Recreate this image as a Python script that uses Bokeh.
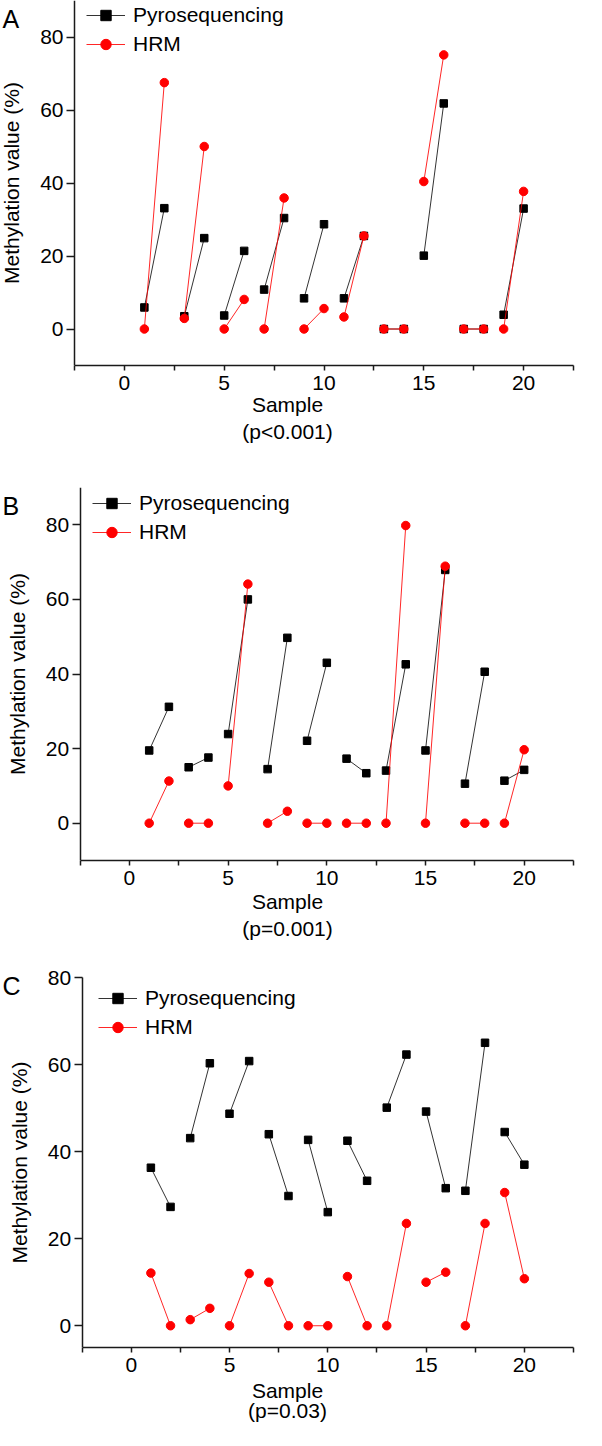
from bokeh.plotting import figure
from bokeh.layouts import column
from bokeh.models import FixedTicker, Label, Range1d
from bokeh.embed import file_html
from bokeh.resources import INLINE

samples = list(range(1, 21))

pyro_a = [5.9, 33.1, 3.5, 24.9, 3.7, 21.4, 10.8, 30.4, 8.4, 28.7,
          8.4, 25.5, 0, 0, 20.1, 61.8, 0, 0, 3.9, 33.0]
hrm_a = [0, 67.5, 2.9, 50.0, 0, 8.1, 0, 35.9, 0, 5.6,
         3.3, 25.5, 0, 0, 40.4, 75.1, 0, 0, 0, 37.7]

pyro_b = [19.5, 31.2, 15.0, 17.6, 23.9, 60.0, 14.5, 49.7, 22.1, 43.0,
          17.3, 13.4, 14.1, 42.6, 19.5, 67.9, 10.6, 40.6, 11.4, 14.3]
hrm_b = [0, 11.3, 0, 0, 10.0, 64.1, 0, 3.2, 0, 0,
         0, 0, 0, 79.8, 0, 68.9, 0, 0, 0, 19.7]

pyro_c = [36.3, 27.3, 43.1, 60.3, 48.7, 60.8, 44.0, 29.8, 42.7, 26.1,
          42.5, 33.3, 50.1, 62.3, 49.2, 31.6, 31.0, 65.0, 44.5, 37.0]
hrm_c = [12.1, 0, 1.4, 4.0, 0, 12.0, 10.0, 0, 0, 0,
         11.3, 0, 0, 23.5, 10.0, 12.3, 0, 23.5, 30.6, 10.8]

x_major = [0, 5, 10, 15, 20]
x_minor = [-2.5, 2.5, 7.5, 12.5, 17.5, 22.5]
y_major = [0, 20, 40, 60, 80]
x_lo, x_hi = -2.5, 22.5

FONT = "Liberation Sans"
RED = "#ff0000"
W = 586
PAGE = 8  # body margin


def pairs(xv, yv):
    xs = [[xv[i], xv[i + 1]] for i in range(0, len(xv), 2)]
    ys = [[yv[i], yv[i + 1]] for i in range(0, len(yv), 2)]
    return xs, ys


def panel(letter, pyro, hrm, ylo, yhi, xlabel, fig_top, height,
          frame_top, axis_top, axis_bottom, axis_left, frame_right,
          leg_x, leg_y, lab_lh, lab_standoff):
    # layout in page pixels -> borders and ranges
    bl = 1
    br = PAGE + W - frame_right
    bt = frame_top - fig_top
    bb = fig_top + height - axis_bottom
    ppx = (frame_right - axis_left) / (x_hi - x_lo)
    x_start = x_lo - (axis_left - (PAGE + bl)) / ppx
    ppy = (axis_bottom - axis_top) / float(yhi - ylo)
    y_end = yhi + (axis_top - frame_top) / ppy

    p = figure(width=W, height=height, output_backend="svg",
               toolbar_location=None, x_range=Range1d(x_start, x_hi),
               y_range=Range1d(ylo, y_end), min_border_left=bl,
               min_border_top=bt, min_border_bottom=bb, min_border_right=br)
    p.outline_line_color = None
    p.xgrid.visible = False
    p.ygrid.visible = False
    p.background_fill_color = "white"
    p.border_fill_color = "white"

    xs, ys = pairs(samples, pyro)
    p.multi_line(xs, ys, line_color="#333333", line_width=1,
                 legend_label="Pyrosequencing")
    p.scatter(samples, pyro, marker="square", size=7.5, fill_color="black",
              line_color="black", legend_label="Pyrosequencing")
    xs, ys = pairs(samples, hrm)
    p.multi_line(xs, ys, line_color=RED, line_width=1, line_alpha=0.85,
                 legend_label="HRM")
    p.scatter(samples, hrm, marker="circle", size=8.5, fill_color=RED,
              line_color=RED, legend_label="HRM")

    for ax in (p.xaxis[0], p.yaxis[0]):
        ax.axis_line_color = "#1a1a1a"
        ax.axis_line_width = 1.5
        ax.major_tick_line_color = "#1a1a1a"
        ax.major_tick_line_width = 1.5
        ax.minor_tick_line_color = "#1a1a1a"
        ax.minor_tick_line_width = 1.5
        ax.major_tick_in = 0
        ax.minor_tick_in = 0
        ax.major_label_text_font = FONT
        ax.major_label_text_font_size = "21px"
        ax.major_label_text_color = "black"
        ax.axis_label_text_font = FONT
        ax.axis_label_text_font_size = "21px"
        ax.axis_label_text_font_style = "normal"
        ax.axis_label_text_color = "black"

    xa = p.xaxis[0]
    xa.ticker = FixedTicker(ticks=x_major, minor_ticks=x_minor)
    xa.bounds = (x_lo, x_hi)
    xa.major_tick_out = 5
    xa.minor_tick_out = 5
    xa.major_label_standoff = 5
    xa.axis_label = xlabel
    xa.axis_label_standoff = lab_standoff
    xa.axis_label_text_line_height = lab_lh

    ya = p.yaxis[0]
    ya.ticker = FixedTicker(ticks=y_major, minor_ticks=[])
    ya.fixed_location = x_lo
    ya.bounds = (ylo, yhi)
    ya.major_tick_out = 8
    ya.minor_tick_out = 0
    ya.major_label_standoff = 3
    ya.axis_label = "Methylation value (%)"
    ya.axis_label_standoff = 14

    lg = p.legend[0]
    lg.location = (leg_x, leg_y)
    lg.margin = 0
    lg.padding = 0
    lg.border_line_color = None
    lg.background_fill_alpha = 0
    lg.glyph_width = 39
    lg.glyph_height = 26
    lg.label_height = 26
    lg.spacing = 3
    lg.label_standoff = 8
    lg.label_text_font = FONT
    lg.label_text_font_size = "21px"
    lg.label_text_color = "black"

    fh = height - bt - bb
    p.add_layout(Label(x=1, y=fh - 18, x_units="screen", y_units="screen",
                       text=letter, text_font=FONT, text_font_size="25px",
                       text_align="left", text_baseline="alphabetic",
                       text_color="black"))
    return p


# page-pixel layout of each panel
pa = panel("A", pyro_a, hrm_a, -10, 90, "Sample\n(p<0.001)",
           fig_top=8, height=477, frame_top=8, axis_top=8, axis_bottom=373,
           axis_left=82, frame_right=581, leg_x=85, leg_y=308, lab_lh=1.2,
           lab_standoff=0)
pb = panel("B", pyro_b, hrm_b, -10, 90, "Sample\n(p=0.001)",
           fig_top=485, height=485, frame_top=495, axis_top=495,
           axis_bottom=868, axis_left=89, frame_right=591,
           leg_x=91, leg_y=315, lab_lh=1.2, lab_standoff=2)
pc = panel("C", pyro_c, hrm_c, -5, 80, "Sample\n(p=0.03)",
           fig_top=970, height=468, frame_top=975, axis_top=985,
           axis_bottom=1355, axis_left=91, frame_right=591,
           leg_x=97, leg_y=307, lab_lh=0.9, lab_standoff=4)

layout = column(pa, pb, pc, spacing=0)
open("out.html", "w").write(file_html(layout, INLINE))
